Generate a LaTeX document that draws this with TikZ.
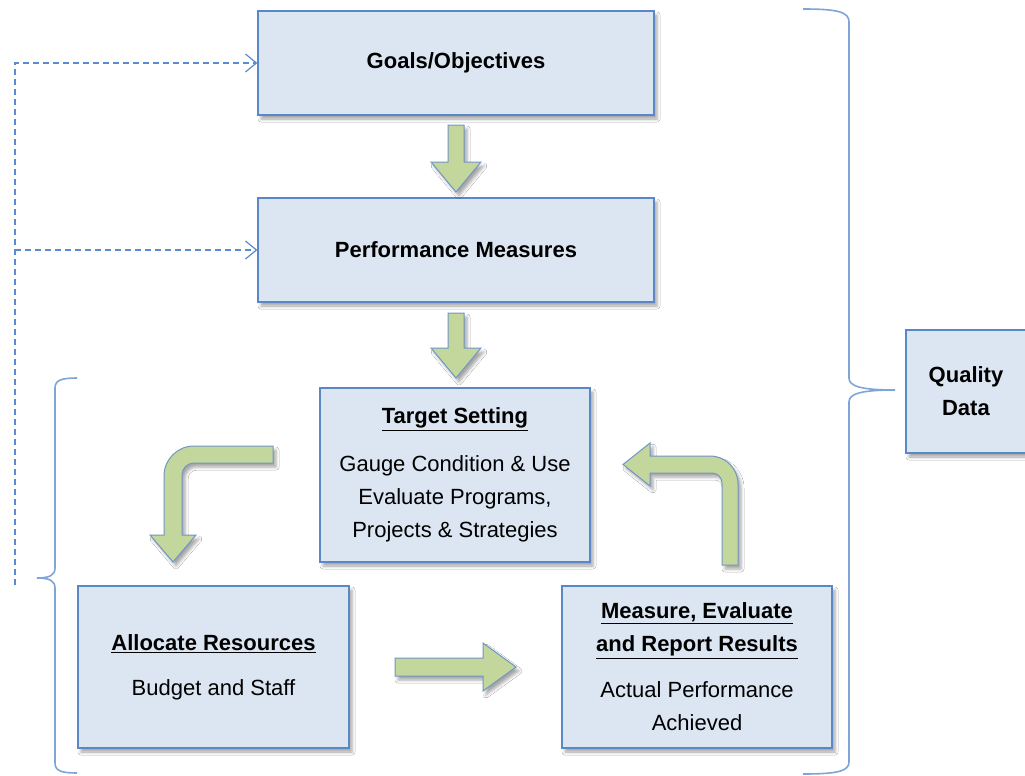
\documentclass[tikz,border=0pt]{standalone}
\usepackage{fontspec}
\setmainfont{Liberation Sans}
\usetikzlibrary{arrows.meta,shadows.blur}
\definecolor{boxfill}{HTML}{DCE6F2}
\definecolor{boxline}{HTML}{5B87C5}
\definecolor{arrowfill}{HTML}{C3D69B}
\definecolor{arrowline}{HTML}{7096C6}
\definecolor{braceline}{HTML}{7FA5D6}
\definecolor{dashcol}{HTML}{5A8BD2}
\tikzset{
  softshadow/.style={blur shadow={shadow xshift=3pt, shadow yshift=-4pt, shadow blur radius=3pt, shadow opacity=35}},
  box/.style={draw=boxline, fill=boxfill, line width=1.2pt, softshadow, inner sep=0pt,
    align=center, font=\fontsize{22}{33}\selectfont},
  blockarrow/.style={draw=arrowline, fill=arrowfill, line width=1pt, softshadow},
  bracestyle/.style={draw=braceline, line width=1.6pt},
  dashconn/.style={draw=dashcol, line width=1.2pt, dash pattern=on 6pt off 4pt,
    -{Straight Barb[length=11pt,width=18pt,line width=1.2pt]}}
}
\begin{document}
\begin{tikzpicture}[x=1pt,y=-1pt]
\fill[white] (0,0) rectangle (1025,776);
\useasboundingbox (0,0) rectangle (1025,776);
% boxes
\node[box, minimum width=396pt, minimum height=104pt] (goals) at (456,63) {\textbf{Goals/Objectives}};
\node[box, minimum width=396pt, minimum height=104pt] (perf) at (456,250) {\textbf{Performance Measures}};
\node[box, minimum width=270pt, minimum height=174pt] (target) at (455,475)
  {\textbf{\underline{Target Setting}}\\[15pt] Gauge Condition \& Use\\ Evaluate Programs,\\ Projects \& Strategies};
\node[box, minimum width=271pt, minimum height=162pt] (alloc) at (213.5,667)
  {\textbf{\underline{Allocate Resources}}\\[12pt] Budget and Staff};
\node[box, minimum width=270pt, minimum height=162pt] (measure) at (697,667)
  {\textbf{\underline{Measure, Evaluate}}\\ \textbf{\underline{and Report Results}}\\[13pt] Actual Performance\\ Achieved};
\node[box, minimum width=120pt, minimum height=123pt] (quality) at (966,391.5) {\textbf{Quality}\\ \textbf{Data}};
% block arrows
\foreach \ya/\yb in {125/192, 313/378}
  \draw[blockarrow] (448,\ya) -- (464,\ya) -- (464,\yb-30) -- (481,\yb-30) -- (456,\yb)
    -- (431,\yb-30) -- (448,\yb-30) -- cycle;
\draw[blockarrow] (395,658) -- (483,658) -- (483,643) -- (516,667) -- (483,691) -- (483,676) -- (395,676) -- cycle;
\draw[blockarrow] (273,446) -- (194,446) .. controls (177.4,446) and (164,459.4) .. (164,476)
  -- (164,535) -- (150,535) -- (173,562) -- (196,535) -- (182,535) -- (182,475)
  .. controls (182,468.4) and (187.4,463) .. (194,463) -- (273,463) -- cycle;
\draw[blockarrow] (738,565) -- (738,484) .. controls (738,468.5) and (725.5,456) .. (710,456)
  -- (650,456) -- (650,443) -- (623,464.5) -- (650,486) -- (650,473) -- (712,473)
  .. controls (717.5,473) and (722,477.5) .. (722,483) -- (722,565) -- cycle;
% dashed feedback
\coordinate (dashbot) at (15,585);
\draw[dashconn] (dashbot) |- (goals.west);
\draw[dashconn] (dashbot |- perf.west) -- (perf.west);
% braces
\draw[bracestyle] (77,378) .. controls (62,378) and (55,380) .. (55,388) -- (55,568)
  .. controls (55,575) and (50,578) .. (37,578) .. controls (50,578) and (55,581) .. (55,588)
  -- (55,763) .. controls (55,771) and (62,773) .. (77,773);
\draw[bracestyle] (803,9) .. controls (838,9) and (849,12) .. (849,22) -- (849,378)
  .. controls (849,386) and (860,390) .. (895,390) .. controls (860,390) and (849,394) .. (849,402)
  -- (849,762) .. controls (849,771) and (838,774) .. (803,774);
\end{tikzpicture}
\end{document}
